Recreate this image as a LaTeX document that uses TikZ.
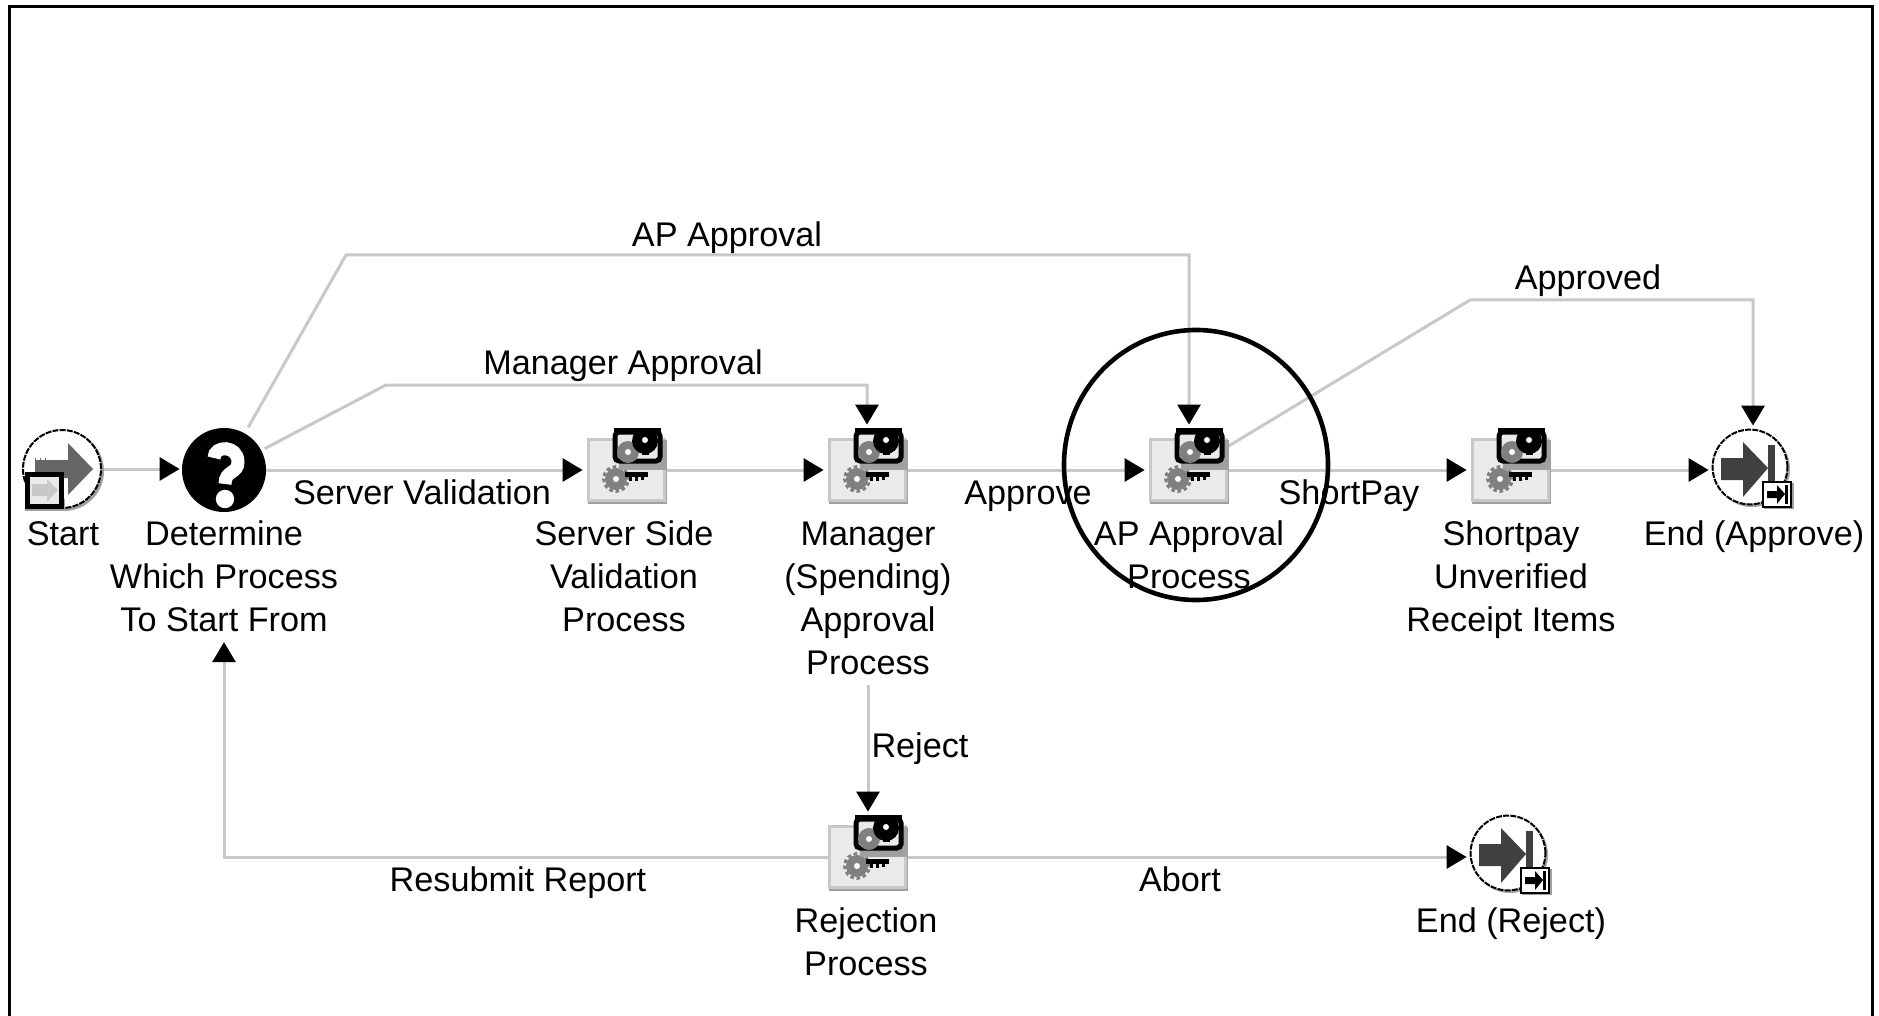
\documentclass[tikz,border=0pt]{standalone}
\usepackage{fontspec}
\setmainfont{Liberation Sans}
\usetikzlibrary{arrows.meta,calc}
\definecolor{linegray}{HTML}{C8C8C8}
\definecolor{boxfill}{HTML}{EAEAEA}
\definecolor{geargray}{HTML}{808080}
\definecolor{shadowgray}{HTML}{A0A0A0}
\definecolor{arrowdark}{HTML}{404040}
\definecolor{arrowmid}{HTML}{666666}
\newcommand{\firstline}{\rule{0pt}{13pt}}
\tikzset{
  x=0.5pt,y=-0.5pt,
  conn/.style={draw=linegray,line width=1.5pt,-{Triangle[length=10pt,width=11.5pt,fill=black,color=black]},shorten >=2pt},
  lab/.style={font=\fontsize{17.1}{21.5}\selectfont,inner sep=0pt,align=center,text=black},
  toplab/.style={lab,anchor=north,fill=white},
  elab/.style={lab,text height=12.3pt,text depth=3.6pt},
  tasknode/.style={draw=none,minimum width=40pt,minimum height=41pt,inner sep=0pt},
  roundnode/.style={draw=none,circle,minimum size=40pt,inner sep=0pt},
  taskicon/.pic={
    \fill[shadowgray] (-39,-30) rectangle (40,34);
    \fill[boxfill,draw=linegray,line width=1.5pt] (-39,-31) rectangle (37,30);
    \fill[geargray] (-11,9) circle (5.5pt);
    \draw[geargray,line width=1.5pt,dash pattern=on 1.8pt off 1.4pt] (-11,9) circle (6.2pt);
    \fill[white] (-11,9) circle (1.5pt);
    \fill[black] (-2,2) rectangle (21,7);
    \fill[black] (2,7) rectangle (5,11);
    \fill[black] (8,7) rectangle (11,11);
    \fill[black] (14,7) rectangle (17,10);
    \fill[shadowgray] (-8,-30) rectangle (40,0);
    \fill[boxfill,draw=black,line width=2.5pt,rounded corners=2pt] (-12,-38) rectangle (33,-9);
    \fill[black] (-13,-42) rectangle (34,-36);
    \fill[geargray] (1,-18) circle (5.5pt);
    \fill[white] (1,-18) circle (1.5pt);
    \fill[black] (18,-29) circle (6.5pt);
    \fill[black] (15,-22) rectangle (22,-15);
    \fill[white] (18,-30) circle (1.5pt);
  },
  starticon/.pic={
    \fill[shadowgray] (2,2) circle (20pt);
    \fill[white,draw=black,line width=1pt,dash pattern=on 3pt off 0.6pt] (0,0) circle (19.5pt);
    \fill[arrowmid] (-27,-9) -- (6,-9) -- (6,-26) -- (31,0) -- (6,26) -- (6,9) -- (-27,9) -- cycle;
    \draw[arrowmid,line width=0.5pt] (-27,-11) -- (-27,0) (-22,-11) -- (-22,0) (-17,-11) -- (-17,0);
    \fill[shadowgray] (-37,30) rectangle (3,42);
    \fill[boxfill,draw=black,line width=2.5pt] (-35,5) rectangle (-1,37);
    \fill[linegray] (-30,15) -- (-15,15) -- (-15,10) -- (-4,21) -- (-15,33) -- (-15,27) -- (-30,27) -- cycle;
  },
  whichicon/.pic={
    \fill[black] (0,0) circle (21pt);
    \draw[white,line width=6.5pt] (-10,-12) .. controls (-10,-25) and (14,-25) .. (14,-8) .. controls (14,4) and (1,0) .. (1,14);
    \fill[white] (1,29) circle (4.6pt);
  },
  endicon/.pic={
    \fill[shadowgray] (2,2) circle (19pt);
    \fill[white,draw=black,line width=1pt,dash pattern=on 3pt off 0.6pt] (0,0) circle (18.7pt);
    \fill[arrowdark] (-29,-9) -- (-7,-9) -- (-7,-25) -- (18,1) -- (-7,30) -- (-7,13) -- (-29,13) -- cycle;
    \fill[arrowdark] (18,-22) rectangle (25,20);
    \fill[shadowgray] (14,16) rectangle (44,42);
    \fill[white,draw=black,line width=1pt] (13,15) rectangle (41,40);
    \fill[black] (17,24) -- (27,24) -- (27,18) -- (35,27) -- (27,37) -- (27,31) -- (17,31) -- cycle;
    \fill[black] (35,18) rectangle (38,37);
  }
}
\begin{document}
\begin{tikzpicture}
\useasboundingbox (0,0) rectangle (1879,1016);
\draw[black,line width=1.5pt] (9.5,7) -- (1872,7) -- (1872,1022) -- (9.5,1022) -- cycle;

% icon anchors
\node[roundnode] (start) at (62,469) {};
\node[roundnode] (det) at (224,470) {};
\node[tasknode] (server) at (627,470) {};
\node[tasknode] (manager) at (868,470) {};
\node[tasknode] (ap) at (1189,470) {};
\node[tasknode] (shortpay) at (1511,470) {};
\node[roundnode,minimum size=37pt] (endok) at (1750,467) {};
\node[tasknode] (reject) at (868,857) {};
\node[roundnode,minimum size=37pt] (endrej) at (1508,853) {};

% texts under icons
\node[toplab] (startl) at (63,519) {\firstline Start};
\node[toplab] (detl) at (224,519) {\firstline Determine\\Which Process\\To Start From};
\node[toplab] (serverl) at (624,519) {\firstline Server Side\\Validation\\Process};
\node[toplab] (managerl) at (868,519) {\firstline Manager\\(Spending)\\Approval\\Process};
\node[lab,anchor=north] (apl) at (1189,519) {\firstline AP Approval\\Process};
\node[toplab] (shortpayl) at (1511,519) {\firstline Shortpay\\Unverified\\Receipt Items};
\node[toplab] (endokl) at (1754,519) {\firstline End (Approve)};
\node[toplab] (rejectl) at (866,906) {\firstline Rejection\\Process};
\node[toplab] (endrejl) at (1511,906) {\firstline End (Reject)};

% bend points
\coordinate (b1) at (346,255);
\coordinate (b2) at (1189,255);
\coordinate (b3) at (386,385);
\coordinate (b4) at (867,385);
\coordinate (b5) at (1470,300);
\coordinate (b6) at (1753,300);
\coordinate (b7) at (224,857);

% connectors
\draw[conn] (start) -- (start -| det.west);
\draw[conn] (det) -- (server);
\draw[conn] (server) -- (manager);
\draw[conn] (manager) -- (ap);
\draw[conn] (ap) -- (shortpay);
\draw[conn] (shortpay.east) -- (shortpay.east -| endok.west);
\draw[conn,shorten <=24.5pt] (det.center) -- (b1) -- (b2) -- (b2 |- ap.north);
\draw[conn,shorten <=23pt] (det.center) -- (b3) -- (b4) -- (b4 |- manager.north);
\draw[conn,shorten <=22pt] (ap.center) -- (b5) -- (b6) -- (b6 |- endok.north);
\draw[conn,shorten <=5pt] (managerl.south) -- (reject.north);
\draw[conn,shorten >=5pt] (reject.west) -- (b7) -- (detl.south);
\draw[conn] (reject.east) -- (reject.east -| endrej.west);

% icons
\pic at (start) {starticon};
\pic at (det) {whichicon};
\pic at (server) {taskicon};
\pic at (manager) {taskicon};
\pic at (ap) {taskicon};
\pic at (shortpay) {taskicon};
\pic at (endok) {endicon};
\pic at (reject) {taskicon};
\pic at (endrej) {endicon};

% connector labels
\node[elab] (e1) at (727,238) {AP Approval};
\node[elab] (e2) at (623,366) {Manager Approval};
\node[elab] (e3) at (1588,281) {Approved};
\node[elab] (e4) at (422,496) {Server Validation};
\node[elab] (e5) at (1028,496) {Approve};
\node[elab] (e6) at (1349,496) {ShortPay};
\node[elab] (e7) at (920,749) {Reject};
\node[elab] (e8) at (518,883) {Resubmit Report};
\node[elab] (e9) at (1180,883) {Abort};

% highlight ring
\draw[black,line width=2.3pt] (1196,465) ellipse (66pt and 67.5pt);
\end{tikzpicture}
\end{document}
